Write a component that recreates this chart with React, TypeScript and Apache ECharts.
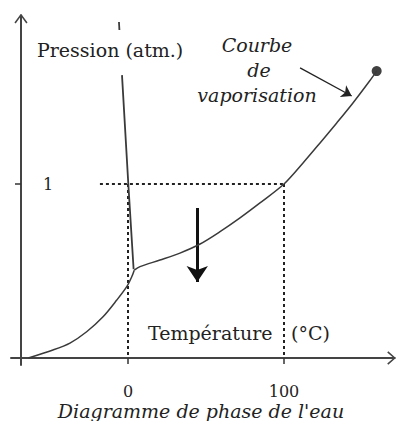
import React, { useEffect, useRef } from "react";
import * as echarts from "echarts";

// Temperature (°C) / pressure (atm, schematic scale)
const sublimationCurve: [number, number][] = [
  [-63.9, 0], [-48.1, 0.046], [-37.2, 0.086], [-26.5, 0.151], [-16.0, 0.237],
  [-7.2, 0.333], [-0.8, 0.41], [2.4, 0.467], [4.0, 0.505],
];
const vaporisationCurve: [number, number][] = [
  [4.0, 0.505], [7.7, 0.525], [20.5, 0.563], [33.3, 0.603], [46.2, 0.655],
  [59.0, 0.726], [71.8, 0.805], [84.6, 0.891], [100, 1.0], [112.2, 1.121],
  [123.1, 1.236], [133.8, 1.351], [144.2, 1.466], [155.1, 1.595], [159.4, 1.649],
];
const fusionCurve: [number, number][] = [[-3.85, 1.626], [0.2, 1.0], [3.6, 0.51]];
const fusionFragment: [number, number][] = [[-5.8, 1.931], [-5.5, 1.885]];
const criticalPoint: [number, number][] = [[159.4, 1.649]];
const oneAtmLine: [number, number][] = [[-18, 1], [100, 1]];
const zeroLine: [number, number][] = [[0, 1], [0, 0]];
const hundredLine: [number, number][] = [[100, 1], [100, 0]];
const pointerArrow: [number, number][] = [[110.3, 1.667], [143.4, 1.506]];
const downArrow: [number, number][] = [[44.4, 0.862], [44.4, 0.437]];
const xArrowHead: [number, number][] = [[166.5, 0.035], [171, 0], [166.5, -0.035]];
const yArrowHead: [number, number][] = [[-72.4, 1.925], [-68.6, 1.972], [-64.8, 1.925]];
const xTickValues = [0, 100];
const yTickValues = [1];

const FONT = "DejaVu Serif";
const INK = "#222";
const LINE = "#3a3a3a";

export default function App() {
  const ref = useRef<HTMLDivElement>(null);
  useEffect(() => {
    if (!ref.current) return;
    const chart = echarts.init(ref.current, undefined, { renderer: "svg" });
    const curve = (data: [number, number][], width = 1.5, smooth: any = 0.3) => ({
      type: "line",
      data,
      smooth,
      showSymbol: false,
      symbol: "none",
      clip: false,
      lineStyle: { color: LINE, width },
      silent: true,
    });
    const dashed = (data: [number, number][]) => ({
      type: "line",
      data,
      showSymbol: false,
      symbol: "none",
      lineStyle: { color: "#222", width: 2, type: [3, 3] },
      silent: true,
    });
    chart.setOption({
      animation: false,
      backgroundColor: "#fff",
      grid: {
        left: 11,
        right: 3.24,
        top: 15.22,
        bottom: 56.04,
        containLabel: false,
        outerBoundsMode: "none",
      },
      xAxis: {
        type: "value",
        min: -75,
        max: 171,
        axisLine: { show: true, onZero: true, lineStyle: { color: "#444", width: 2 } },
        axisTick: { show: true, customValues: xTickValues, length: 6, lineStyle: { color: "#333", width: 1.5 } },
        axisLabel: { customValues: xTickValues, fontSize: 16, margin: 19, color: INK, fontFamily: FONT },
        splitLine: { show: false },
      },
      yAxis: {
        type: "value",
        min: -0.04,
        max: 1.97,
        offset: -10,
        axisLine: { show: true, onZero: false, lineStyle: { color: "#444", width: 2 } },
        axisTick: { show: true, customValues: yTickValues, length: 6, lineStyle: { color: "#333", width: 1.5 } },
        axisLabel: { customValues: yTickValues, inside: true, margin: 22, fontSize: 16, color: INK, fontFamily: FONT },
        splitLine: { show: false },
      },
      series: [
        dashed(oneAtmLine),
        dashed(zeroLine),
        dashed(hundredLine),
        curve(sublimationCurve),
        curve(vaporisationCurve),
        curve(fusionCurve, 1.8, false),
        curve(fusionFragment, 1.8, false),
        { ...curve(xArrowHead, 1.6, false), lineStyle: { color: "#444", width: 1.6 } },
        { ...curve(yArrowHead, 1.6, false), lineStyle: { color: "#444", width: 1.6 } },
        {
          type: "scatter",
          data: criticalPoint,
          symbolSize: 10,
          itemStyle: { color: "#111" },
          silent: true,
        },
        {
          type: "lines",
          coordinateSystem: "cartesian2d",
          data: [{ coords: pointerArrow }],
          symbol: ["none", "arrow"],
          symbolSize: 10,
          lineStyle: { color: INK, width: 1.3, opacity: 1 },
          silent: true,
        },
        {
          type: "lines",
          coordinateSystem: "cartesian2d",
          data: [{ coords: downArrow }],
          symbol: ["none", "arrow"],
          symbolSize: 16,
          lineStyle: { color: "#111", width: 3, opacity: 1 },
          silent: true,
        },
      ],
      graphic: [
        {
          type: "text",
          x: 37,
          y: 50,
          style: { text: "Pression (atm.)", font: `19px "${FONT}"`, fill: INK, align: "left", verticalAlign: "middle" },
        },
        {
          type: "text",
          x: 257,
          y: 45,
          style: { text: "Courbe", font: `italic 19px "${FONT}"`, fill: INK, align: "center", verticalAlign: "middle" },
        },
        {
          type: "text",
          x: 259,
          y: 70,
          style: { text: "de", font: `italic 19px "${FONT}"`, fill: INK, align: "center", verticalAlign: "middle" },
        },
        {
          type: "text",
          x: 257,
          y: 95,
          style: { text: "vaporisation", font: `italic 19px "${FONT}"`, fill: INK, align: "center", verticalAlign: "middle" },
        },
        {
          type: "text",
          x: 148,
          y: 333,
          style: { text: "Température", font: `19px "${FONT}"`, fill: INK, align: "left", verticalAlign: "middle" },
        },
        {
          type: "text",
          x: 291,
          y: 333,
          style: { text: "(°C)", font: `19px "${FONT}"`, fill: INK, align: "left", verticalAlign: "middle" },
        },
        {
          type: "text",
          x: 201,
          y: 411,
          style: { text: "Diagramme de phase de l'eau", font: `italic 19px "${FONT}"`, fill: INK, align: "center", verticalAlign: "middle" },
        },
      ],
    });
    return () => chart.dispose();
  }, []);
  return (
    <div
      ref={ref}
      style={{ position: "fixed", left: 0, top: 0, width: 398, height: 421, background: "#fff" }}
    />
  );
}
